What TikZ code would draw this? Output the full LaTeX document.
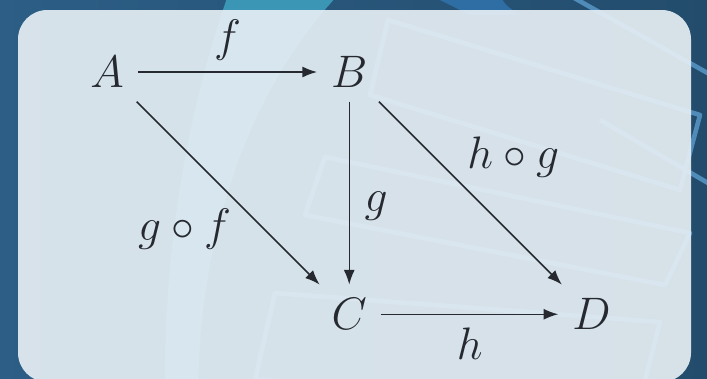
\documentclass[tikz,border=0pt]{standalone}
\usepackage{amsmath}
\usepackage{tikz}
\usetikzlibrary{arrows.meta, positioning}
\definecolor{bgleft}{RGB}{44,94,134}
\definecolor{bgright}{RGB}{35,76,108}
\definecolor{bgteal}{RGB}{58,150,180}
\definecolor{bgstreak}{RGB}{47,110,165}
\definecolor{bgline}{RGB}{80,140,185}
\definecolor{panel}{RGB}{232,240,245}
\definecolor{ink}{RGB}{38,42,48}

\begin{document}
\begin{tikzpicture}[x=0.0192cm, y=-0.0192cm,
  node distance=4.65cm, on grid,
  obj/.style={font=\Huge, text=ink, inner sep=7.5pt},
  lbl/.style={font=\Huge, text=ink, inner sep=3pt},
  arr/.style={-{Latex[length=8pt, width=6pt]}, line width=0.8pt, draw=ink},
  deco/.style={draw=bgline, line width=2.5pt, line join=round}
]
  \useasboundingbox (0,0) rectangle (707,378);
  \shade[left color=bgleft, right color=bgright] (0,0) rectangle (707,378);
  \fill[bgteal] (228,-5) .. controls (185,120) and (165,250) .. (165,385)
    -- (198,385) .. controls (200,250) and (240,100) .. (338,-5) -- cycle;
  \fill[bgstreak] (430,-5) .. controls (450,5) .. (470,15)
    -- (520,15) .. controls (505,5) .. (500,-5) -- cycle;
  \draw[deco] (388,20) -- (700,115) -- (680,190) -- (370,95) -- cycle;
  \draw[deco] (325,157) -- (690,233) -- (665,285) -- (305,215) -- cycle;
  \draw[deco] (275,293) -- (660,322) -- (640,400) -- (255,380) -- cycle;
  \draw[deco] (560,-10) -- (720,80);
  \draw[deco] (600,120) -- (720,190);
  \fill[panel, opacity=0.91, rounded corners=16pt] (18,10) rectangle (691,382);

  \node[obj] (a) at (107,72) {$A$};
  \node[obj, right=of a] (b) {$B$};
  \node[obj, below=of b] (c) {$C$};
  \node[obj, right=of c] (d) {$D$};

  \draw[arr] (a) -- node[lbl, above=3pt] (lf) {$f$} (b);
  \draw[arr] (b) -- node[lbl, right=5pt, pos=0.57] (lg) {$g$} (c);
  \draw[arr] (c) -- node[lbl, below=4pt] (lh) {$h$} (d);
  \draw[arr] (a) -- node[lbl, below left, pos=0.55] (lgf) {$g\circ f$} (c);
  \draw[arr] (b) -- node[lbl, above right, pos=0.45] (lhg) {$h\circ g$} (d);
\end{tikzpicture}
\end{document}
